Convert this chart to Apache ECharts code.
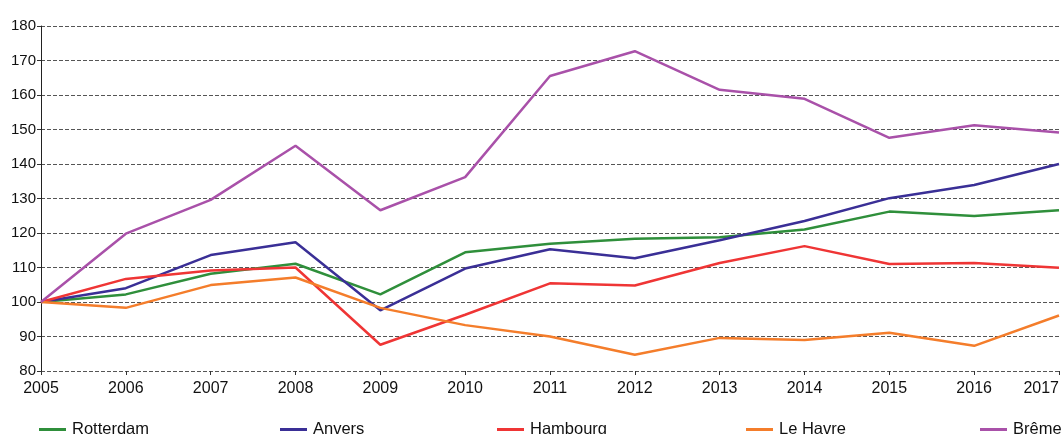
<!DOCTYPE html>
<html>
<head>
<meta charset="utf-8">
<script src="https://cdn.jsdelivr.net/npm/echarts@6/dist/echarts.min.js"></script>
<style>
  html, body { margin: 0; padding: 0; background: #fff; }
  #chart { width: 1064px; height: 434px; }
</style>
</head>
<body>
<div id="chart"></div>
<script>
var years = ['2005', '2006', '2007', '2008', '2009', '2010', '2011', '2012', '2013', '2014', '2015', '2016', '2017'];

var rotterdam = [100, 102.2, 108.2, 111.1, 102.2, 114.4, 116.9, 118.3, 118.8, 121, 126.2, 124.9, 126.6];
var anvers    = [100, 104, 113.6, 117.3, 97.6, 109.7, 115.3, 112.7, 117.9, 123.5, 130.1, 133.9, 140];
var hambourg  = [100, 106.7, 109.1, 110, 87.6, 96.3, 105.4, 104.8, 111.3, 116.2, 111, 111.3, 109.9];
var leHavre   = [100, 98.3, 104.9, 107.1, 98.3, 93.3, 90, 84.7, 89.6, 89, 91.1, 87.3, 96.1];
var breme     = [100, 119.8, 129.6, 145.3, 126.6, 136.2, 165.5, 172.7, 161.5, 158.9, 147.6, 151.2, 149.1];

var names  = ['Rotterdam', 'Anvers', 'Hambourg', 'Le Havre', 'Brême'];
var values = [rotterdam, anvers, hambourg, leHavre, breme];
var colors = ['#2f8f3b', '#3a2f96', '#ef3535', '#f47d2b', '#a951a9'];
var legendLeft = [39, 280, 497, 746, 980];

var font = 'Liberation Sans, Arial, sans-serif';

var myChart = echarts.init(document.getElementById('chart'));

var series = names.map(function (n, i) {
    return {
        name: n,
        type: 'line',
        data: values[i],
        symbol: 'none',
        color: colors[i],
        lineStyle: { width: 2.5, color: colors[i] }
    };
});

var legends = names.map(function (n, i) {
    return {
        data: [n],
        left: legendLeft[i],
        top: 421,
        padding: 0,
        itemWidth: 27,
        itemHeight: 14,
        itemGap: 0,
        icon: 'path://M0,6 L27,6 L27,9 L0,9 Z',
        textStyle: { fontFamily: font, fontSize: 16.5, color: '#111', padding: [0, 0, 0, 1] }
    };
});

myChart.setOption({
    animation: false,
    backgroundColor: '#fff',
    grid: { left: 41, right: 5, top: 26, bottom: 63, containLabel: false },
    legend: legends,
    xAxis: {
        type: 'category',
        data: years,
        boundaryGap: false,
        axisLine: { show: false },
        axisTick: { show: true, length: 4, lineStyle: { color: '#333' } },
        axisLabel: {
            fontFamily: font, fontSize: 16, color: '#111', margin: 10,
            alignMaxLabel: 'right'
        },
        splitLine: { show: false }
    },
    yAxis: {
        type: 'value',
        min: 80,
        max: 180,
        interval: 10,
        axisLine: { show: true, lineStyle: { color: '#222', width: 1 } },
        axisTick: { show: true, length: 4, lineStyle: { color: '#333' } },
        axisLabel: { fontFamily: font, fontSize: 15, color: '#111', margin: 5 },
        splitLine: { show: true, lineStyle: { type: [4, 2], color: '#555', width: 1 } }
    },
    series: series
});

window.addEventListener('resize', function () {
    myChart.resize();
});
</script>
</body>
</html>
